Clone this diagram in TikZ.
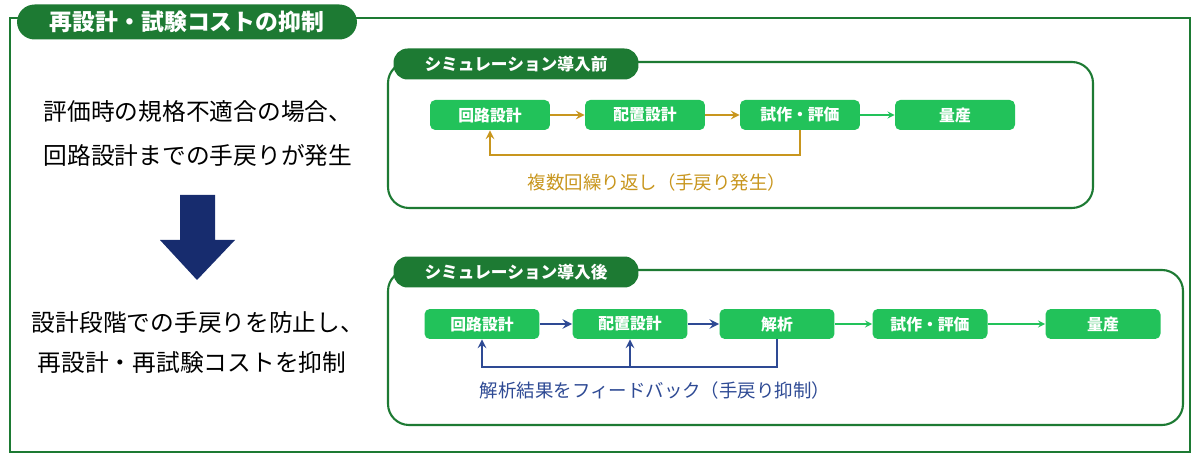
\documentclass[tikz,border=0pt]{standalone}
\usepackage{fontspec}
\setmainfont{Noto Sans CJK JP}
\usetikzlibrary{positioning}
\definecolor{frame}{HTML}{1D7A33}
\definecolor{stagegreen}{HTML}{22C25A}
\definecolor{gold}{HTML}{C8961E}
\definecolor{navy}{HTML}{2E4A94}
\definecolor{darknavy}{HTML}{172C6E}
\begin{document}
\begin{tikzpicture}[x=0.02cm, y=-0.02cm, >=stealth,
  stage/.style={fill=stagegreen, rounded corners=3pt, text=white, font=\bfseries\fontsize{9}{10}\selectfont, minimum height=0.6cm},
  pill/.style={fill=frame, rounded corners=8pt, text=white, font=\bfseries\fontsize{9.5}{11}\selectfont, minimum height=0.62cm},
  box/.style={draw=frame, line width=1.2pt, rounded corners=12pt},
  lead/.style={font=\fontsize{13.5}{15}\selectfont}]

\useasboundingbox (0,0) rectangle (1200,462);
\draw [frame, line width=1.5pt] (10,18) rectangle (1190,452);
\node [pill, minimum width=6.8cm, font=\bfseries\fontsize{13}{15}\selectfont, rounded corners=10pt, minimum height=0.7cm] (title) at (187,22) {再設計・試験コストの抑制};

% left side
\node [lead] (t1) at (198,112) {評価時の規格不適合の場合、};
\node [lead] (t2) at (198,155) {回路設計までの手戻りが発生};
\fill [darknavy] (180,195) -- (215,195) -- (215,240) -- (235,240) -- (197,280) -- (160,240) -- (180,240) -- cycle;
\node [lead] (t3) at (198,323) {設計段階での手戻りを防止し、};
\node [lead] (t4) at (192,362) {再設計・再試験コストを抑制};

% before
\draw [box] (388,62) rectangle (1093,208);
\node [pill, minimum width=4.9cm] (before) at (516,64) {シミュレーション導入前};
\foreach \n/\x/\l in {a1/490/回路設計, a2/645/配置設計, a3/800/試作・評価, a4/955/量産}
  \node [stage, minimum width=2.4cm] (\n) at (\x,115) {\l};
\draw [->, gold, line width=1.2pt] (a1) -- (a2);
\draw [->, gold, line width=1.2pt] (a2) -- (a3);
\draw [->, stagegreen, line width=0.8pt] (a3) -- (a4);
\draw [->, gold, line width=1.2pt] (a3.south) -- ++(0,25) -| (a1.south);
\node [gold, font=\fontsize{10.5}{12}\selectfont] (loopa) at (657,182) {複数回繰り返し（手戻り発生）};

% after
\draw [box] (388,270) rectangle (1183,425);
\node [pill, minimum width=4.9cm] (after) at (516,272) {シミュレーション導入後};
\foreach \n/\x/\l in {b1/482/回路設計, b2/630/配置設計, b3/777/解析, b4/930/試作・評価, b5/1103/量産}
  \node [stage, minimum width=2.3cm] (\n) at (\x,324) {\l};
\draw [->, navy, line width=1.4pt] (b1) -- (b2);
\draw [->, navy, line width=1.4pt] (b2) -- (b3);
\draw [->, stagegreen, line width=0.8pt] (b3) -- (b4);
\draw [->, stagegreen, line width=0.8pt] (b4) -- (b5);
\draw [->, navy, line width=1.2pt] (b3.south) -- ++(0,28) -| (b1.south);
\draw [->, navy, line width=1.2pt] (b2.south |- 0,368) -- (b2.south);
\node [navy, font=\fontsize{10.5}{12}\selectfont] (loopb) at (655,390) {解析結果をフィードバック（手戻り抑制）};
\end{tikzpicture}
\end{document}
